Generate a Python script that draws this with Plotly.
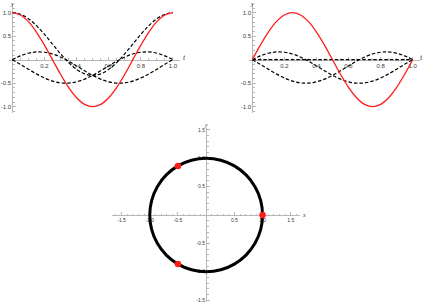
import plotly.graph_objects as go

# ---- data ----
t_vals = [0.0, 0.05, 0.1, 0.15, 0.2, 0.25, 0.3, 0.35, 0.4, 0.45, 0.5,
          0.55, 0.6, 0.65, 0.7, 0.75, 0.8, 0.85, 0.9, 0.95, 1.0]

red_left = [1.0, 0.951, 0.809, 0.588, 0.309, 0.0, -0.309, -0.588, -0.809, -0.951, -1.0,
            -0.951, -0.809, -0.588, -0.309, 0.0, 0.309, 0.588, 0.809, 0.951, 1.0]
red_right = [0.0, 0.309, 0.588, 0.809, 0.951, 1.0, 0.951, 0.809, 0.588, 0.309, 0.0,
             -0.309, -0.588, -0.809, -0.951, -1.0, -0.951, -0.809, -0.588, -0.309, 0.0]

dash_a = [1.0, 0.967, 0.873, 0.725, 0.539, 0.333, 0.127, -0.059, -0.206, -0.301, -0.333,
          -0.301, -0.206, -0.059, 0.127, 0.333, 0.539, 0.725, 0.873, 0.967, 1.0]
dash_b = [0.0, 0.081, 0.138, 0.165, 0.159, 0.122, 0.056, -0.031, -0.132, -0.236, -0.333,
          -0.414, -0.471, -0.498, -0.493, -0.455, -0.390, -0.302, -0.201, -0.097, 0.0]
dash_c = list(reversed(dash_b))
dash_zero = [0.0] * len(t_vals)

circle_x = [1.0, 0.966, 0.866, 0.707, 0.5, 0.259, 0.0, -0.259, -0.5, -0.707, -0.866, -0.966,
            -1.0, -0.966, -0.866, -0.707, -0.5, -0.259, 0.0, 0.259, 0.5, 0.707, 0.866, 0.966, 1.0]
circle_y = [0.0, 0.259, 0.5, 0.707, 0.866, 0.966, 1.0, 0.966, 0.866, 0.707, 0.5, 0.259,
            0.0, -0.259, -0.5, -0.707, -0.866, -0.966, -1.0, -0.966, -0.866, -0.707, -0.5, -0.259, 0.0]

pts_x = [1.0, -0.5, -0.5]
pts_y = [0.0, 0.866, -0.866]

t_ticks = [0.2, 0.4, 0.6, 0.8, 1.0]
t_ticklabels = ["0.2", "0.4", "0.6", "0.8", "1.0"]
y_ticks = [-1.0, -0.5, 0.5, 1.0]
y_ticklabels = ["-1.0", "-0.5", "0.5", "1.0"]
c_ticks = [-1.5, -1.0, -0.5, 0.5, 1.0, 1.5]
c_ticklabels = ["-1.5", "-1.0", "-0.5", "0.5", "1.0", "1.5"]

# ---- figure ----
W, H = 424, 304
RED = "#ff1a1a"
AX = "#b8b8b8"
TXT = "#3a3a3a"
DASH = "3.5px,2px"

fig = go.Figure()

for sub, red, dashes in [("", red_left, [dash_a, dash_b, dash_c]),
                         ("2", red_right, [dash_zero, dash_b, dash_c])]:
    for d in dashes:
        fig.add_trace(go.Scatter(x=t_vals, y=d, mode="lines", line_shape="spline",
                                 line=dict(color="black", width=1.2, dash=DASH),
                                 xaxis="x" + sub, yaxis="y" + sub, hoverinfo="skip"))
    fig.add_trace(go.Scatter(x=t_vals, y=red, mode="lines", line_shape="spline",
                             line=dict(color=RED, width=1.3),
                             xaxis="x" + sub, yaxis="y" + sub, hoverinfo="skip"))

fig.add_trace(go.Scatter(x=circle_x, y=circle_y, mode="lines", line_shape="spline",
                         line=dict(color="black", width=3), xaxis="x3", yaxis="y3",
                         hoverinfo="skip"))
fig.add_trace(go.Scatter(x=pts_x, y=pts_y, mode="markers",
                         marker=dict(color=RED, size=6.5), xaxis="x3", yaxis="y3",
                         hoverinfo="skip"))


def px_x(p):
    return p / W


def px_y(p):
    return 1 - p / H


def axis(domain, rng, pos, tv, tt, size, minor_dtick):
    return dict(domain=domain, range=rng, anchor="free", position=pos, automargin=False,
                showline=True, linecolor=AX, linewidth=1, showgrid=False, zeroline=False,
                layer="below traces",
                tickmode="array", tickvals=tv, ticktext=tt,
                ticks="inside", ticklen=3, tickcolor=AX, tickwidth=1,
                minor=dict(ticks="inside", ticklen=1.5, tickcolor=AX, dtick=minor_dtick,
                           showgrid=False),
                tickfont=dict(family="Liberation Sans", size=size, color=TXT))


ytop_dom = [px_y(113), px_y(4)]
yrng_top = [-1.134, 1.185]
xaxis_pos_top = px_y(59.7)

fig.update_layout(
    width=W, height=H, margin=dict(l=0, r=0, t=0, b=0, autoexpand=False),
    paper_bgcolor="white", plot_bgcolor="white", showlegend=False,
    xaxis=axis([px_x(9.1), px_x(180)], [-0.02, 1.0436], xaxis_pos_top,
               t_ticks, t_ticklabels, 6, 0.05),
    yaxis=axis(ytop_dom, yrng_top, px_x(12.3), y_ticks, y_ticklabels, 6, 0.1),
    xaxis2=axis([px_x(249.1), px_x(420)], [-0.02, 1.0455], xaxis_pos_top,
                t_ticks, t_ticklabels, 6, 0.05),
    yaxis2=axis(ytop_dom, yrng_top, px_x(252.3), y_ticks, y_ticklabels, 6, 0.1),
    xaxis3=axis([px_x(111.7), px_x(300)], [-1.675, 1.664], px_y(215),
                c_ticks, c_ticklabels, 5, 0.1),
    yaxis3=axis([px_y(302), px_y(128)], [-1.534, 1.534], px_x(206),
                c_ticks, c_ticklabels, 5, 0.1),
)

labels = [("t", 184, 58, 8), ("y", 12.5, 4.5, 7), ("t", 421, 58, 8), ("y", 252.5, 4.5, 7),
          ("x", 304, 215, 6), ("y", 206, 125, 6)]
for txt, x, y, s in labels:
    fig.add_annotation(text="<i>" + txt + "</i>", x=px_x(x), y=px_y(y), xref="paper",
                       yref="paper", showarrow=False, xanchor="center", yanchor="middle",
                       font=dict(family="Liberation Serif", size=s, color=TXT))

fig.write_html("out.html", config={"displayModeBar": False},
               post_script="document.body.style.margin='0';")
